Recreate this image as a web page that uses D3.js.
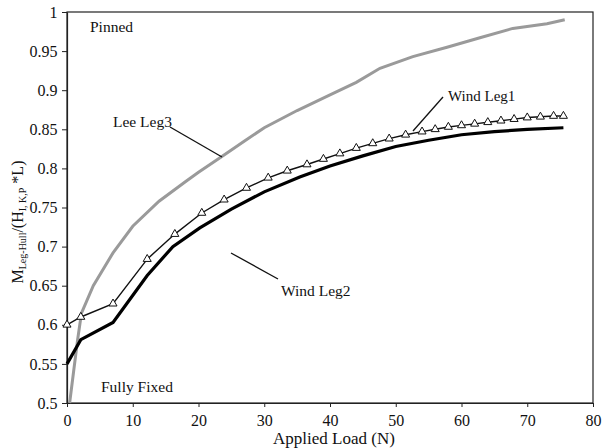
<!DOCTYPE html>
<html><head><meta charset="utf-8">
<script src="https://cdn.jsdelivr.net/npm/d3@7"></script>
<style>body{margin:0;background:#fff}svg{display:block}</style>
</head><body>
<script>
const xTicks=[0,10,20,30,40,50,60,70,80];
const yTicks=[0.5,0.55,0.6,0.65,0.7,0.75,0.8,0.85,0.9,0.95,1];
const yTickLabels=["0.5","0.55","0.6","0.65","0.7","0.75","0.8","0.85","0.9","0.95","1"];
const leeLeg3=[[0.4,0.5],[1,0.54],[1.6,0.58],[2.2,0.615],[4,0.65],[7,0.692],[10,0.726],[14,0.758],[18,0.783],[20,0.795],[23.5,0.815],[27,0.835],[30,0.852],[35,0.874],[40,0.894],[44,0.91],[47.6,0.928],[52.6,0.943],[57.8,0.955],[62.8,0.967],[67.8,0.979],[73,0.985],[75.7,0.99]];
const windLeg1=[[0,0.6],[2.1,0.61],[7,0.627],[12.2,0.684],[16.4,0.716],[20.5,0.743],[23.9,0.76],[27.3,0.775],[30.6,0.788],[33.5,0.797],[36.5,0.805],[39,0.812],[41.5,0.819],[44,0.826],[46.5,0.832],[49,0.838],[51.5,0.843],[54,0.847],[56,0.85],[58,0.853],[60,0.855],[62,0.857],[64,0.859],[66,0.861],[68,0.863],[70,0.865],[72,0.866],[74,0.867],[75.5,0.867]];
const windLeg2=[[0,0.55],[2.1,0.581],[7,0.603],[12.2,0.663],[16.1,0.7],[20.2,0.724],[25,0.748],[30,0.77],[35.4,0.789],[40,0.803],[45,0.816],[50,0.828],[55,0.836],[60,0.843],[65,0.847],[70,0.85],[75.5,0.852]];

const W=603,H=448,L=67,R=593,T=12,B=403;
const FF='"Liberation Serif"';
const svg=d3.select("body").append("svg").attr("width",W).attr("height",H).style("font-family",FF);
const x=d3.scaleLinear().domain([0,80]).range([L,R]);
const y=d3.scaleLinear().domain([0.5,1]).range([B,T]);

svg.append("rect").attr("x",L).attr("y",T).attr("width",R-L).attr("height",B-T)
  .attr("fill","none").attr("stroke","#222").attr("stroke-width",1.2);

const xa=svg.append("g").attr("transform",`translate(0,${B})`)
  .call(d3.axisBottom(x).tickValues(xTicks).tickSize(4).tickSizeOuter(0).tickFormat(d3.format("d")));
const ya=svg.append("g").attr("transform",`translate(${L},0)`)
  .call(d3.axisLeft(y).tickValues(yTicks).tickSize(5).tickSizeOuter(0).tickFormat((d,i)=>yTickLabels[i]));
[xa,ya].forEach(a=>{a.attr("font-family",null).attr("font-size",null);
  a.select(".domain").attr("stroke","#222").attr("stroke-width",1.2);
  a.selectAll("text").style("font-family",FF).attr("font-size",16).attr("fill","#111");
  a.selectAll("line").attr("stroke","#222");});
xa.selectAll("text").attr("dy","1.0em");
ya.selectAll("text").attr("dx","-0.1em");

const line=d3.line().x(d=>x(d[0])).y(d=>y(d[1]));
const g=svg.append("g");
g.append("path").datum(leeLeg3).attr("d",line).attr("fill","none")
  .attr("stroke","#9a9a9a").attr("stroke-width",3);
g.append("path").datum(windLeg2).attr("d",line).attr("fill","none")
  .attr("stroke","#000").attr("stroke-width",3.2);
g.append("path").datum(windLeg1).attr("d",line).attr("fill","none")
  .attr("stroke","#111").attr("stroke-width",1.4);
const tri=d3.symbol().type(d3.symbolTriangle).size(28);
g.selectAll(".tri").data(windLeg1).join("path").attr("class","tri")
  .attr("transform",d=>`translate(${x(d[0])},${y(d[1])})`).attr("d",tri)
  .attr("fill","#fff").attr("stroke","#111").attr("stroke-width",1);

const txt=(s,px,py,fs)=>svg.append("text").attr("x",px).attr("y",py).style("font-family",FF)
  .attr("font-size",fs).attr("fill","#111").text(s);
txt("Pinned",90,32,15.5);
txt("Fully Fixed",101,392,15.5);
txt("Lee Leg3",113,127,15.5);
txt("Wind Leg1",448,101,15);
txt("Wind Leg2",281,296,15.5);
const pl=(a,b,c,d)=>svg.append("line").attr("x1",a).attr("y1",b).attr("x2",c).attr("y2",d).attr("stroke","#111").attr("stroke-width",1.3);
pl(170,127,222,157);
pl(443,97,413,131);
pl(278,279,231,253);

svg.append("text").attr("x",334).attr("y",444).attr("text-anchor","middle").style("font-family",FF)
  .attr("font-size",17).attr("fill","#111").text("Applied Load (N)");
const yl=svg.append("text").attr("transform",`translate(23,222) rotate(-90)`).attr("text-anchor","middle")
  .style("font-family",FF).attr("font-size",16).attr("fill","#111");
yl.append("tspan").text("M");
yl.append("tspan").attr("font-size",10).attr("dy",3).text("Leg-Hull");
yl.append("tspan").attr("dy",-3).text("/(H");
yl.append("tspan").attr("font-size",10).attr("dy",3).text("I, K,P");
yl.append("tspan").attr("dy",-3).text(" *L)");
</script>
</body></html>
